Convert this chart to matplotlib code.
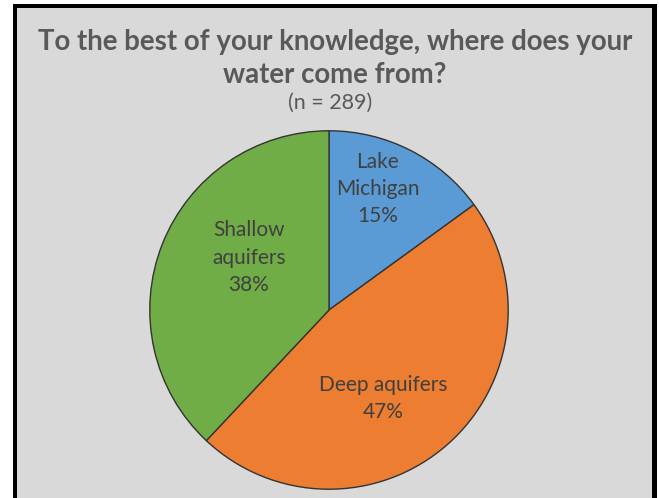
import numpy as np
import matplotlib.pyplot as plt
from matplotlib.patches import Rectangle

sources = ["Lake\nMichigan", "Deep aquifers", "Shallow\naquifers"]
shares = [15, 47, 38]
colors = ["#5b9bd5", "#ed7d31", "#70ad47"]
# label placement inside the slices (radius, angle in degrees)
label_pos = [(0.727, 68), (0.58, -58.3), (0.535, 146.8)]

W, H = 659, 498
fig = plt.figure(figsize=(W / 100, H / 100), dpi=100, facecolor="white")

# black frame (left, top, right) and grey chart area
fig.patches.append(Rectangle((13 / W, 0), (657 - 13) / W, (H - 4) / H,
                             transform=fig.transFigure, facecolor="black", zorder=-3))
fig.patches.append(Rectangle((17 / W, 0), (652 - 17) / W, (H - 8) / H,
                             transform=fig.transFigure, facecolor="#d9d9d9", zorder=-2))

fig.text(335 / W, 1 - 42 / H, "To the best of your knowledge, where does your",
         ha="center", va="center", fontsize=19.9, fontweight="bold",
         color="#595959", family="Lato")
fig.text(335 / W, 1 - 75 / H, "water come from?",
         ha="center", va="center", fontsize=19.9, fontweight="bold",
         color="#595959", family="Lato")
fig.text(330 / W, 1 - 103 / H, "(n = 289)",
         ha="center", va="center", fontsize=15.5, color="#595959", family="Lato")

cx, cy, r = 329, 310, 181
ax = fig.add_axes([(cx - r) / W, (H - cy - r) / H, 2 * r / W, 2 * r / H])
ax.set_zorder(1)
ax.pie(shares, colors=colors, startangle=90, counterclock=False,
       wedgeprops=dict(edgecolor="#333333", linewidth=1))
ax.set_xlim(-1.01, 1.01)
ax.set_ylim(-1.01, 1.01)
ax.axis("off")

for name, val, (rr, ang) in zip(sources, shares, label_pos):
    a = np.deg2rad(ang)
    ax.text(rr * np.cos(a), rr * np.sin(a), f"{name}\n{val}%",
            ha="center", va="center", fontsize=15, color="#404040",
            family="Lato", linespacing=1.45)

plt.savefig("out.png", dpi=100, facecolor=fig.get_facecolor())
